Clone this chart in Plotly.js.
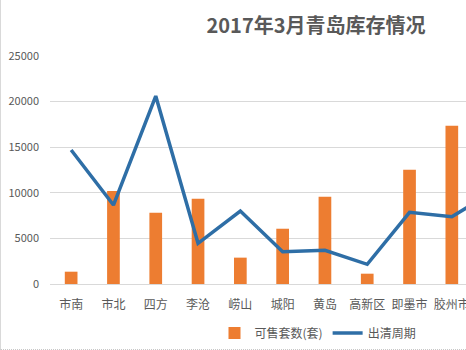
<!DOCTYPE html>
<html>
<head>
<meta charset="utf-8">
<script src="https://cdn.plot.ly/plotly-3.0.1.min.js"></script>
<style>
html,body{margin:0;padding:0;background:#fff;overflow:hidden;}
#chart{width:465px;height:349px;border-left:1px solid #d9d9d9;border-bottom:1px dotted #c8c8c8;}
</style>
</head>
<body>
<div id="chart"></div>
<script>
const categories = ['市南','市北','四方','李沧','崂山','城阳','黄岛','高新区','即墨市','胶州市','平度市'];
const saleUnits = [1350, 10200, 7820, 9350, 2890, 6060, 9570, 1130, 12530, 17360, null];
const clearPeriod = [14690, 8660, 20610, 4460, 8000, 3540, 3690, 2160, 7860, 7380, 10200];
const yTicks = [0, 5000, 10000, 15000, 20000, 25000];

const font = "'Noto Sans CJK SC', 'Noto Sans', sans-serif";
const grey = '#595959';

const traces = [
  {
    type: 'bar', name: '可售套数(套)', x: categories, y: saleUnits,
    marker: {color: '#ED7D31'}, width: 0.3
  },
  {
    type: 'scatter', mode: 'lines', name: '出清周期', x: categories, y: clearPeriod,
    line: {color: '#2E6EA6', width: 3.5}
  }
];

const layout = {
  width: 465, height: 349,
  margin: {l: 49, r: 0, t: 56, b: 65},
  paper_bgcolor: '#fff', plot_bgcolor: '#fff',
  font: {family: font, color: grey},
  title: {
    text: '<b>2017年3月青岛库存情况</b>',
    font: {family: font, size: 20, color: grey},
    x: 315/465, xref: 'container', xanchor: 'center',
    y: 1 - 26/349, yref: 'container', yanchor: 'middle'
  },
  xaxis: {
    type: 'category', range: [-0.5, 9.335],
    showgrid: false, zeroline: false, showline: false,
    ticks: '', tickfont: {size: 12, color: grey, family: font},
    ticklabelstandoff: 12
  },
  yaxis: {
    range: [0, 25000], tickvals: yTicks, ticktext: yTicks.map(String),
    showgrid: true, gridcolor: '#d9d9d9', gridwidth: 1,
    zeroline: true, zerolinecolor: '#d9d9d9', zerolinewidth: 1,
    showline: false, ticks: '',
    tickfont: {size: 11, color: grey, family: font},
    ticklabelstandoff: 10
  },
  legend: {
    orientation: 'h', x: (317-49)/416, xanchor: 'center',
    y: -0.215, yanchor: 'middle',
    font: {size: 12, color: grey, family: font},
    itemwidth: 30
  },
  showlegend: true
};

Plotly.newPlot('chart', traces, layout, {displayModeBar: false, staticPlot: true});
</script>
</body>
</html>
